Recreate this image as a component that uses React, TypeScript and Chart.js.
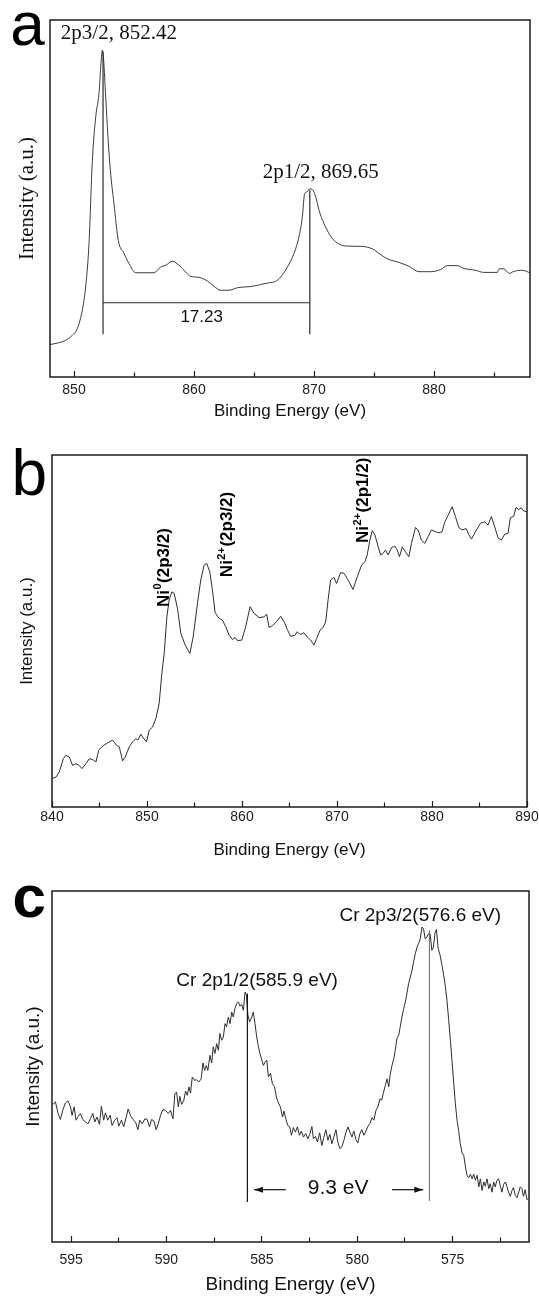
import React, { useEffect, useRef } from 'react';
import { Chart, registerables } from 'chart.js';

Chart.register(...registerables);

const SANS = "'Liberation Sans', Arial, Helvetica, sans-serif";
const SERIF = "'Liberation Serif', 'Times New Roman', Times, serif";

// ---------- Panel a : Ni 2p (smooth spectrum) ----------
const aEnergy = [
  848.0, 848.61, 849.31, 849.86, 850.28, 850.69, 850.97, 851.25, 851.53, 851.81,
  852.08, 852.25, 852.36, 852.47, 852.64, 852.83, 853.03, 853.33, 853.69, 854.17,
  854.58, 855.14, 856.67, 857.22, 857.64, 858.19, 858.75, 859.31, 859.72, 860.42,
  861.11, 861.67, 862.22, 862.92, 863.61, 864.86, 865.69, 866.25, 866.81, 867.22,
  867.78, 868.33, 868.75, 869.03, 869.22, 869.44, 869.64, 869.86, 870.14, 870.42,
  870.83, 871.53, 872.64, 873.89, 874.86, 875.42, 876.11, 877.08, 877.92, 878.75,
  879.72, 880.56, 881.11, 881.94, 882.5, 883.47, 884.14, 885.28, 885.42, 885.83,
  886.11, 886.31, 886.53, 887.22, 887.64, 888.06,
];
const aIntensity = [
  9.1, 9.5, 10.3, 11.7, 13.6, 18.7, 25.2, 37.4, 60.7, 72.9,
  79.4, 87.9, 91.6, 88.8, 78.5, 67.3, 57.9, 48.6, 38.3, 34.6,
  31.8, 29.2, 29.2, 30.8, 31.3, 32.4, 31.3, 29.4, 28.2, 27.9,
  26.9, 25.4, 24.3, 24.3, 25.0, 25.4, 26.0, 26.4, 26.8, 28.0,
  30.8, 34.6, 39.3, 44.9, 51.4, 51.9, 52.7, 52.5, 50.5, 46.7,
  43.0, 38.8, 36.7, 36.6, 35.9, 34.6, 33.1, 32.1, 31.0, 29.5,
  29.5, 30.1, 31.2, 31.2, 30.4, 29.9, 29.3, 29.3, 30.3, 30.3,
  29.4, 29.0, 29.4, 29.9, 29.7, 29.0,
];
const aMajorTicks = [850, 860, 870, 880];
const aMinorTicks = [855, 865, 875, 885];
const aPeakEnergy = [852.42, 869.65];
const aPeakTop = [91.1, 52.3];
const aDropBottom = 12.0;
const aSplitLevel = 20.8;
const aPeakText = ['2p3/2, 852.42', '2p1/2, 869.65'];
const aPeakTextAt = [[853.74, 94.6], [870.56, 55.7]];
const aSplitText = '17.23';
const aSplitTextAt = [860.64, 16.6];

// ---------- Panel b : Ni 2p (noisy spectrum) ----------
const bEnergy = [
  840.0, 840.42, 840.77, 841.19, 841.47, 841.82, 842.17, 842.52, 842.87, 843.15,
  843.57, 843.92, 844.27, 844.63, 844.91, 845.33, 845.85, 846.38, 846.8, 847.08,
  847.43, 847.71, 848.13, 848.48, 848.83, 849.04, 849.36, 849.6, 849.95, 850.23,
  850.58, 850.93, 851.28, 851.56, 851.81, 852.09, 852.33, 852.61, 852.86, 853.21,
  853.56, 854.02, 854.51, 854.86, 855.31, 855.66, 856.01, 856.29, 856.61, 856.89,
  857.17, 857.59, 857.94, 858.29, 858.64, 858.99, 859.27, 859.52, 859.97, 860.39,
  860.85, 861.27, 861.79, 862.32, 862.6, 862.85, 863.2, 863.62, 864.07, 864.49,
  864.77, 865.12, 865.58, 865.82, 866.1, 866.52, 866.87, 867.23, 867.58, 867.86,
  868.21, 868.53, 868.81, 869.06, 869.33, 869.68, 869.96, 870.38, 870.73, 871.08,
  871.36, 871.68, 872.13, 872.59, 872.94, 873.18, 873.46, 873.71, 873.99, 874.34,
  874.59, 874.83, 875.11, 875.39, 875.74, 876.09, 876.34, 876.58, 876.87, 877.21,
  877.56, 877.84, 878.26, 878.54, 878.89, 879.24, 879.59, 879.94, 880.37, 880.71,
  881.06, 881.35, 881.7, 882.12, 882.47, 882.82, 883.17, 883.6, 883.88, 884.16,
  884.57, 885.1, 885.55, 885.9, 886.25, 886.6, 886.95, 887.3, 887.65, 888.0,
  888.25, 888.6, 888.85, 889.13, 889.41, 889.65, 890.0,
];
const bIntensity = [
  8.1, 8.5, 10.0, 13.7, 14.7, 14.2, 11.8, 12.3, 11.8, 10.9,
  12.3, 13.7, 13.5, 12.8, 16.1, 17.3, 18.2, 19.0, 17.5, 17.1,
  13.1, 14.2, 17.1, 18.5, 19.4, 19.0, 20.7, 19.6, 18.5, 21.8,
  22.7, 25.1, 29.4, 37.9, 43.6, 54.0, 58.8, 61.1, 60.7, 56.4,
  49.3, 46.0, 43.6, 48.3, 57.8, 64.5, 68.7, 69.2, 66.8, 61.6,
  55.2, 53.6, 53.1, 51.2, 48.8, 47.6, 48.2, 47.3, 47.4, 51.2,
  56.9, 55.0, 53.8, 54.0, 54.8, 51.0, 51.5, 52.6, 54.2, 52.3,
  50.4, 48.5, 48.8, 49.8, 49.0, 49.5, 48.3, 47.4, 46.0, 47.9,
  50.2, 51.0, 52.6, 58.8, 64.5, 65.2, 63.5, 66.6, 66.4, 64.9,
  63.5, 61.8, 65.4, 68.7, 69.7, 71.6, 75.8, 78.5, 77.3, 73.9,
  71.6, 72.0, 73.0, 71.6, 73.7, 74.1, 73.0, 71.1, 73.9, 72.5,
  71.1, 74.9, 79.4, 78.7, 75.8, 74.9, 76.8, 78.7, 78.2, 77.9,
  78.2, 81.0, 82.9, 85.3, 82.5, 79.4, 78.7, 79.1, 77.3, 76.1,
  78.2, 80.6, 81.0, 80.1, 82.5, 79.6, 76.5, 75.8, 77.5, 77.7,
  82.2, 82.6, 85.1, 84.5, 85.0, 84.1, 83.9,
];
const bMajorTicks = [840, 850, 860, 870, 880, 890];
const bMinorTicks = [845, 855, 865, 875, 885];
const bPeakText = [
  ['Ni', '0', '(2p3/2)'],
  ['Ni', '2+', '(2p3/2)'],
  ['Ni', '2+', '(2p1/2)'],
];
const bPeakTextAt = [[851.8, 56.8], [858.5, 65.3], [872.8, 75.0]];

// ---------- Panel c : Cr 2p ----------
const cEnergy = [
  595.96, 595.82, 595.68, 595.56, 595.44, 595.3, 595.16, 595.03, 594.95, 594.84,
  594.74, 594.63, 594.51, 594.39, 594.25, 594.11, 593.99, 593.86, 593.76, 593.64,
  593.51, 593.41, 593.29, 593.2, 593.08, 592.95, 592.85, 592.71, 592.59, 592.5,
  592.36, 592.24, 592.11, 592.01, 591.89, 591.76, 591.62, 591.5, 591.4, 591.27,
  591.13, 591.01, 590.89, 590.78, 590.66, 590.54, 590.43, 590.31, 590.19, 590.05,
  589.91, 589.79, 589.66, 589.56, 589.47, 589.38, 589.3, 589.21, 589.09, 589.0,
  588.91, 588.82, 588.74, 588.65, 588.53, 588.42, 588.3, 588.18, 588.09, 588.0,
  587.91, 587.83, 587.72, 587.63, 587.55, 587.46, 587.37, 587.28, 587.2, 587.11,
  587.02, 586.93, 586.85, 586.76, 586.67, 586.58, 586.5, 586.41, 586.32, 586.23,
  586.15, 586.06, 585.97, 585.88, 585.81, 585.73, 585.64, 585.53, 585.45, 585.36,
  585.27, 585.18, 585.1, 585.0, 584.92, 584.83, 584.74, 584.66, 584.55, 584.45,
  584.34, 584.24, 584.13, 584.03, 583.92, 583.84, 583.75, 583.64, 583.54, 583.45,
  583.35, 583.24, 583.14, 583.03, 582.93, 582.82, 582.7, 582.59, 582.49, 582.38,
  582.3, 582.19, 582.09, 581.97, 581.86, 581.75, 581.65, 581.54, 581.44, 581.33,
  581.23, 581.12, 581.02, 580.91, 580.81, 580.7, 580.6, 580.49, 580.39, 580.28,
  580.18, 580.07, 579.97, 579.86, 579.76, 579.65, 579.55, 579.44, 579.34, 579.23,
  579.13, 579.02, 578.92, 578.81, 578.72, 578.64, 578.53, 578.44, 578.35, 578.27,
  578.18, 578.09, 578.01, 577.92, 577.83, 577.75, 577.66, 577.57, 577.48, 577.4,
  577.31, 577.22, 577.13, 577.05, 576.96, 576.87, 576.79, 576.7, 576.61, 576.53,
  576.44, 576.35, 576.27, 576.18, 576.09, 576.01, 575.92, 575.85, 575.76, 575.66,
  575.56, 575.47, 575.39, 575.3, 575.21, 575.12, 575.03, 574.95, 574.86, 574.77,
  574.69, 574.6, 574.51, 574.42, 574.33, 574.25, 574.16, 574.07, 573.98, 573.9,
  573.81, 573.72, 573.63, 573.55, 573.46, 573.37, 573.29, 573.2, 573.11, 573.03,
  572.94, 572.85, 572.77, 572.68, 572.59, 572.5, 572.42, 572.33, 572.24, 572.16,
  572.07, 571.98, 571.89, 571.81, 571.72, 571.63, 571.55, 571.46, 571.37, 571.29,
  571.2, 571.11, 571.03,
];
const cIntensity = [
  39.2, 39.9, 36.6, 34.9, 37.5, 39.6, 40.2, 38.5, 36.1, 38.5,
  34.7, 35.8, 36.6, 34.9, 34.2, 33.7, 35.1, 36.6, 34.2, 35.6,
  33.5, 38.7, 34.7, 36.8, 34.7, 36.1, 33.2, 34.7, 35.4, 33.0,
  34.7, 32.8, 35.6, 37.9, 36.1, 34.9, 34.2, 32.0, 34.7, 33.7,
  35.1, 34.9, 32.8, 34.9, 34.5, 32.0, 33.7, 36.1, 37.7, 37.5,
  36.6, 37.5, 35.1, 42.3, 42.7, 38.5, 41.5, 39.2, 40.4, 43.0,
  41.8, 44.2, 42.4, 47.0, 46.1, 46.2, 45.6, 46.5, 51.0, 48.9,
  50.3, 48.9, 53.2, 51.0, 55.6, 53.7, 56.5, 54.6, 59.4, 57.5,
  58.4, 62.2, 61.3, 64.1, 62.2, 65.5, 64.1, 66.5, 67.9, 68.4,
  67.2, 67.7, 66.0, 71.2, 70.3, 64.6, 62.7, 64.1, 65.5, 62.2,
  58.4, 55.6, 53.7, 51.8, 50.3, 51.3, 51.8, 47.0, 48.1, 45.1,
  44.3, 41.3, 39.6, 38.5, 35.6, 37.3, 35.1, 33.2, 32.8, 30.4,
  32.6, 31.3, 32.8, 30.4, 31.6, 29.9, 30.9, 29.4, 30.7, 32.9,
  29.4, 30.1, 28.5, 31.1, 27.5, 29.9, 32.0, 29.0, 30.7, 28.0,
  29.9, 32.0, 28.5, 26.6, 27.1, 29.0, 31.1, 32.8, 31.3, 29.9,
  31.6, 29.2, 28.2, 30.9, 32.0, 30.4, 31.6, 33.0, 33.7, 35.4,
  34.7, 37.5, 38.5, 40.8, 40.4, 42.3, 44.6, 46.5, 44.2, 48.0,
  50.3, 52.2, 54.6, 58.0, 58.9, 61.3, 64.1, 66.5, 68.4, 70.8,
  73.6, 75.5, 77.4, 79.8, 82.1, 84.0, 85.0, 86.4, 89.7, 89.2,
  86.4, 86.9, 87.8, 87.7, 83.1, 84.0, 88.3, 89.0, 83.6, 81.7,
  78.8, 76.0, 73.1, 68.9, 63.2, 57.5, 51.3, 45.6, 39.4, 34.7,
  31.8, 28.0, 25.4, 24.7, 21.4, 19.0, 18.3, 19.3, 18.0, 19.3,
  17.6, 19.0, 15.7, 18.0, 14.7, 17.1, 15.9, 18.0, 15.2, 16.6,
  14.2, 17.1, 15.7, 17.6, 18.0, 15.9, 14.2, 16.4, 17.1, 15.9,
  14.2, 13.0, 14.7, 15.5, 13.3, 12.6, 14.0, 15.7, 15.2, 13.0,
  14.9, 12.1, 12.3,
];
const cMajorTicks = [595, 590, 585, 580, 575];
const cMinorTicks = [592.5, 587.5, 582.5, 577.5, 572.5];
const cPeakEnergy = [585.76, 576.22];
const cPeakTop = [70.8, 88.8];
const cDropBottom = [11.4, 11.7];
const cPeakText = ['Cr 2p1/2(585.9 eV)', 'Cr 2p3/2(576.6 eV)'];
const cPeakTextAt = [[585.25, 72.8], [576.7, 91.5]];
const cSplitText = '9.3 eV';
const cSplitTextAt = [581.0, 15.3];
const cArrowLeft = [583.75, 585.41];
const cArrowRight = [578.18, 576.54];
const cArrowLevel = 14.9;

type PX = (v: number) => number;

type Spec = {
  id: string;
  top: number;
  height: number;
  padTop: number;
  padRight: number;
  yWidth: number;
  xHeight: number;
  xMin: number;
  xMax: number;
  reverse: boolean;
  major: number[];
  minor: number[];
  tickPad: number;
  xTitleSize: number;
  xTitlePad: number;
  yTitleFamily: string;
  yTitleSize: number;
  yTitlePad: number;
  energy: number[];
  intensity: number[];
  lineColor: string;
  monotone: boolean;
  letter: string;
  letterFont: string;
  letterX: number;
  letterY: number;
  draw: (ctx: CanvasRenderingContext2D, x: PX, y: PX) => void;
};

function vline(ctx: CanvasRenderingContext2D, x: number, y1: number, y2: number) {
  ctx.beginPath();
  ctx.moveTo(x, y1);
  ctx.lineTo(x, y2);
  ctx.stroke();
}

function drawA(ctx: CanvasRenderingContext2D, x: PX, y: PX) {
  ctx.strokeStyle = '#2a2a2a';
  ctx.lineWidth = 1.2;
  aPeakEnergy.forEach((e, i) => vline(ctx, x(e), y(aPeakTop[i]), y(aDropBottom)));
  ctx.beginPath();
  ctx.moveTo(x(aPeakEnergy[0]), y(aSplitLevel));
  ctx.lineTo(x(aPeakEnergy[1]), y(aSplitLevel));
  ctx.stroke();
  ctx.fillStyle = '#111';
  ctx.font = `21px ${SERIF}`;
  ctx.textAlign = 'center';
  ctx.textBaseline = 'alphabetic';
  aPeakText.forEach((t, i) => ctx.fillText(t, x(aPeakTextAt[i][0]), y(aPeakTextAt[i][1])));
  ctx.font = `17px ${SANS}`;
  ctx.textBaseline = 'middle';
  ctx.fillText(aSplitText, x(aSplitTextAt[0]), y(aSplitTextAt[1]));
}

function drawB(ctx: CanvasRenderingContext2D, x: PX, y: PX) {
  bPeakText.forEach((parts, i) => {
    const px = x(bPeakTextAt[i][0]);
    const py = y(bPeakTextAt[i][1]);
    ctx.save();
    ctx.translate(px, py);
    ctx.rotate(-Math.PI / 2);
    ctx.fillStyle = '#000';
    ctx.textAlign = 'left';
    ctx.textBaseline = 'middle';
    ctx.font = `bold 17px ${SANS}`;
    ctx.fillText(parts[0], 0, 0);
    let w = ctx.measureText(parts[0]).width + 0.5;
    ctx.font = `bold 11px ${SANS}`;
    ctx.fillText(parts[1], w, -6);
    w += ctx.measureText(parts[1]).width + 0.5;
    ctx.font = `bold 17px ${SANS}`;
    ctx.fillText(parts[2], w, 0);
    ctx.restore();
  });
}

function arrow(ctx: CanvasRenderingContext2D, x1: number, x2: number, yy: number) {
  ctx.beginPath();
  ctx.moveTo(x1, yy);
  ctx.lineTo(x2, yy);
  ctx.stroke();
  const dir = Math.sign(x2 - x1);
  ctx.beginPath();
  ctx.moveTo(x2, yy);
  ctx.lineTo(x2 - dir * 9, yy - 3);
  ctx.lineTo(x2 - dir * 9, yy + 3);
  ctx.closePath();
  ctx.fill();
}

function drawC(ctx: CanvasRenderingContext2D, x: PX, y: PX) {
  ctx.lineWidth = 1.2;
  ctx.strokeStyle = '#111';
  vline(ctx, x(cPeakEnergy[0]), y(cPeakTop[0]), y(cDropBottom[0]));
  ctx.strokeStyle = '#666';
  ctx.lineWidth = 1;
  vline(ctx, x(cPeakEnergy[1]), y(cPeakTop[1]), y(cDropBottom[1]));
  ctx.strokeStyle = '#111';
  ctx.fillStyle = '#111';
  ctx.lineWidth = 1.2;
  arrow(ctx, x(cArrowLeft[0]), x(cArrowLeft[1]), y(cArrowLevel));
  arrow(ctx, x(cArrowRight[0]), x(cArrowRight[1]), y(cArrowLevel));
  ctx.textAlign = 'center';
  ctx.textBaseline = 'alphabetic';
  ctx.font = `19px ${SANS}`;
  cPeakText.forEach((t, i) => ctx.fillText(t, x(cPeakTextAt[i][0]), y(cPeakTextAt[i][1])));
  ctx.font = `21px ${SANS}`;
  ctx.textBaseline = 'middle';
  ctx.fillText(cSplitText, x(cSplitTextAt[0]), y(cSplitTextAt[1]));
}

const specs: Spec[] = [
  {
    id: 'a', top: 0, height: 425, padTop: 20, padRight: 9, yWidth: 50, xHeight: 48,
    xMin: 848, xMax: 888, reverse: false, major: aMajorTicks, minor: aMinorTicks,
    tickPad: 11, xTitleSize: 17, xTitlePad: 3,
    yTitleFamily: SERIF, yTitleSize: 21, yTitlePad: 15,
    energy: aEnergy, intensity: aIntensity, lineColor: '#3c3c3c', monotone: true,
    letter: 'a', letterFont: `62px ${SANS}`, letterX: 27.5, letterY: 45, draw: drawA,
  },
  {
    id: 'b', top: 425, height: 440, padTop: 30, padRight: 12, yWidth: 52, xHeight: 58,
    xMin: 840, xMax: 890, reverse: false, major: bMajorTicks, minor: bMinorTicks,
    tickPad: 7.3, xTitleSize: 17, xTitlePad: 4.8,
    yTitleFamily: SANS, yTitleSize: 17, yTitlePad: 16.8,
    energy: bEnergy, intensity: bIntensity, lineColor: '#2e2e2e', monotone: false,
    letter: 'b', letterFont: `64px ${SANS}`, letterX: 29.2, letterY: 70, draw: drawB,
  },
  {
    id: 'c', top: 865, height: 431, padTop: 26, padRight: 10, yWidth: 52, xHeight: 54,
    xMin: 571, xMax: 596, reverse: true, major: cMajorTicks, minor: cMinorTicks,
    tickPad: 15.6, xTitleSize: 19, xTitlePad: 0,
    yTitleFamily: SANS, yTitleSize: 19, yTitlePad: 22.6,
    energy: cEnergy, intensity: cIntensity, lineColor: '#2e2e2e', monotone: false,
    letter: 'c', letterFont: `bold 60px ${SANS}`, letterX: 29.2, letterY: 51.7, draw: drawC,
  },
];

function buildChart(canvas: HTMLCanvasElement, s: Spec) {
  const allTicks = [...s.major, ...s.minor].sort((p, q) => p - q);
  const isMajor = (v: number) => s.major.some((m) => Math.abs(m - v) < 1e-6);
  const overlay = {
    id: 'overlay_' + s.id,
    afterDraw(chart: any) {
      const ctx: CanvasRenderingContext2D = chart.ctx;
      const ca = chart.chartArea;
      ctx.save();
      ctx.strokeStyle = '#1c1c1c';
      ctx.lineWidth = 1.5;
      ctx.strokeRect(ca.left, ca.top, ca.right - ca.left, ca.bottom - ca.top);
      ctx.fillStyle = '#000';
      ctx.font = s.letterFont;
      ctx.textAlign = 'center';
      ctx.textBaseline = 'alphabetic';
      ctx.fillText(s.letter, s.letterX, s.letterY);
      const xs = chart.scales.x;
      const ys = chart.scales.y;
      s.draw(ctx, (v) => xs.getPixelForValue(v), (v) => ys.getPixelForValue(v));
      ctx.restore();
    },
  };
  return new Chart(canvas, {
    type: 'line',
    data: {
      datasets: [
        {
          data: s.energy.map((e, i) => ({ x: e, y: s.intensity[i] })),
          borderColor: s.lineColor,
          borderWidth: 1,
          pointRadius: 0,
          fill: false,
          tension: s.monotone ? 0.4 : 0,
          cubicInterpolationMode: s.monotone ? 'monotone' : 'default',
        },
      ],
    },
    options: {
      animation: false,
      responsive: false,
      maintainAspectRatio: false,
      devicePixelRatio: 1,
      events: [],
      layout: { padding: { left: 0, top: s.padTop, right: s.padRight, bottom: 0 } },
      plugins: { legend: { display: false }, tooltip: { enabled: false }, title: { display: false } },
      scales: {
        x: {
          type: 'linear',
          bounds: 'data',
          min: s.xMin,
          max: s.xMax,
          reverse: s.reverse,
          afterBuildTicks: (sc: any) => {
            sc.ticks = allTicks.map((v) => ({ value: v }));
          },
          afterFit: (sc: any) => {
            sc.height = s.xHeight;
            sc.paddingLeft = 0;
            sc.paddingRight = 0;
          },
          grid: {
            display: true,
            drawOnChartArea: false,
            drawTicks: true,
            tickLength: -6,
            tickColor: '#1c1c1c',
            tickWidth: 1.2,
            tickBorderDash: (c: any) => (c.tick && isMajor(c.tick.value) ? [] : [4.5, 60]),
          },
          border: { display: false },
          ticks: {
            padding: s.tickPad,
            color: '#1c1c1c',
            font: { family: SANS, size: 14 },
            maxRotation: 0,
            minRotation: 0,
            autoSkip: false,
            callback: (v: any) => (isMajor(Number(v)) ? String(v) : ''),
          },
          title: {
            display: true,
            text: 'Binding Energy (eV)',
            color: '#111',
            font: { family: SANS, size: s.xTitleSize },
            padding: { top: 0, bottom: s.xTitlePad },
          },
        },
        y: {
          type: 'linear',
          min: 0,
          max: 100,
          afterFit: (sc: any) => {
            sc.width = s.yWidth;
            sc.paddingTop = 0;
            sc.paddingBottom = 0;
          },
          grid: { display: false, drawTicks: false },
          border: { display: false },
          ticks: { display: false },
          title: {
            display: true,
            text: 'Intensity (a.u.)',
            color: '#111',
            font: { family: s.yTitleFamily, size: s.yTitleSize },
            padding: { top: s.yTitlePad, bottom: 0 },
          },
        },
      },
    } as any,
    plugins: [overlay],
  });
}

export default function App() {
  const refs = [
    useRef<HTMLCanvasElement>(null),
    useRef<HTMLCanvasElement>(null),
    useRef<HTMLCanvasElement>(null),
  ];
  useEffect(() => {
    const charts = specs.map((s, i) => buildChart(refs[i].current as HTMLCanvasElement, s));
    return () => charts.forEach((c) => c.destroy());
  }, []);
  return (
    <div style={{ position: 'absolute', left: 0, top: 0, width: 539, height: 1296, background: '#fff' }}>
      {specs.map((s, i) => (
        <canvas
          key={s.id}
          ref={refs[i]}
          width={539}
          height={s.height}
          style={{ position: 'absolute', left: 0, top: s.top, width: 539, height: s.height }}
        />
      ))}
    </div>
  );
}
